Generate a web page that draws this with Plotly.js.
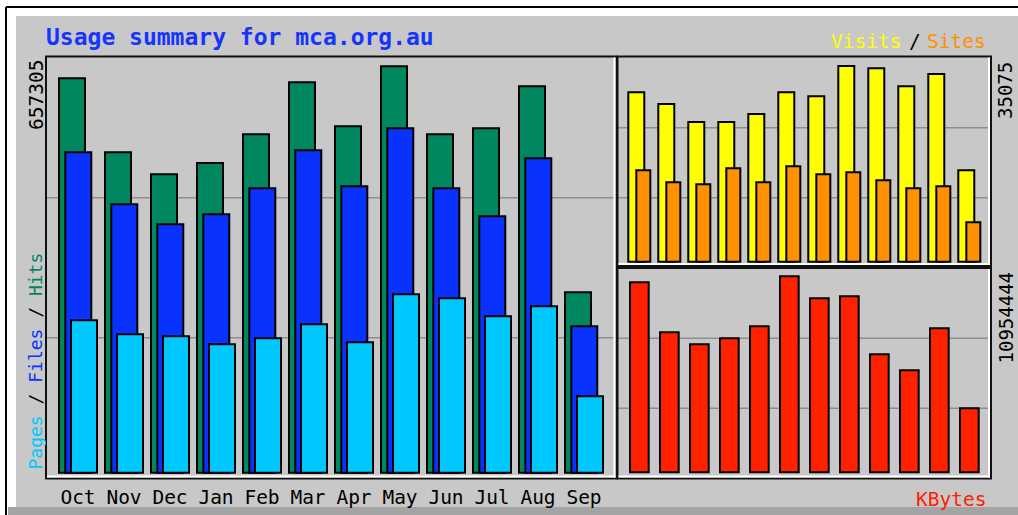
<!DOCTYPE html>
<html>
<head>
<meta charset="utf-8">
<script src="https://cdn.plot.ly/plotly-3.0.1.min.js"></script>
<style>html,body{margin:0;padding:0;background:#fff;}#chart{width:1018px;height:515px;}</style>
</head>
<body>
<div id="chart"></div>
<script>
// ---- data ----
const months = ['Oct','Nov','Dec','Jan','Feb','Mar','Apr','May','Jun','Jul','Aug','Sep'];
const hits   = [637900, 518200, 482600, 500900, 547300, 631400, 560300, 657305, 547300, 557000, 625000, 291800];
const files  = [518200, 434100, 401800, 417900, 460000, 521400, 463200, 557000, 460000, 414700, 508500, 236800];
const pages  = [246500, 223800, 220600, 207700, 217400, 240000, 210900, 288500, 282100, 253000, 269100, 123600];
const visits = [30360, 28260, 25030, 25030, 26470, 30360, 29640, 35075, 34660, 31430, 33640, 16380];
const sites  = [16380, 14230, 13870, 16740, 14230, 17100, 15660, 16020, 14590, 13150, 13510, 7060];
const kbytes = [10619000, 7824600, 7154000, 7489000, 8160000, 10954444, 9725000, 9836700, 6595000, 5700800, 8048000, 3577000];
const titleText = 'Usage summary for mca.org.au';

// ---- layout helpers ----
const W = 1018, H = 515;
const px = x => x / W;
const py = y => 1 - y / H;
const MONO = '"DejaVu Sans Mono", "Liberation Mono", monospace';

const C = {
  hits: '#00875F', files: '#0A32FF', pages: '#00C8FF',
  visits: '#FFFF00', sites: '#FF9000', kbytes: '#FF2200',
  grey: '#C8C8C8', grid: '#8E8E8E'
};

const maxHits = Math.max(...hits);
const maxVisits = Math.max(...visits);
const maxKB = Math.max(...kbytes);

const line = {color: '#000', width: 2};
function bar(y, color, xa, ya, offset, width, name) {
  return {type: 'bar', x: months, y: y, name: name, xaxis: xa, yaxis: ya,
    offset: offset, width: width, marker: {color: color, line: line},
    hoverinfo: 'none'};
}

const traces = [
  bar(hits,   C.hits,   'x',  'y',  -0.413, 0.565, 'Hits'),
  bar(files,  C.files,  'x',  'y',  -0.276, 0.565, 'Files'),
  bar(pages,  C.pages,  'x',  'y',  -0.152, 0.565, 'Pages'),
  bar(visits, C.visits, 'x2', 'y2', -0.37,  0.533, 'Visits'),
  bar(sites,  C.sites,  'x2', 'y2', -0.103, 0.467, 'Sites'),
  bar(kbytes, C.kbytes, 'x3', 'y3', -0.313, 0.623, 'KBytes')
];

function L(x0, y0, x1, y1, color, w) {
  return {type: 'line', xref: 'paper', yref: 'paper', x0: px(x0), y0: py(y0), x1: px(x1), y1: py(y1),
    line: {color: color, width: w}, layer: 'below'};
}
function R(x0, y0, x1, y1, fill) {
  return {type: 'rect', xref: 'paper', yref: 'paper', x0: px(x0), y0: py(y0), x1: px(x1), y1: py(y1),
    fillcolor: fill, line: {width: 0}, layer: 'below'};
}
function frame(x0, y0, x1, y1) {
  return [
    {type: 'rect', xref: 'paper', yref: 'paper', x0: px(x0), y0: py(y0), x1: px(x1), y1: py(y1),
     fillcolor: 'rgba(0,0,0,0)', line: {color: '#111', width: 2}, layer: 'above'},
    Object.assign(L(x0 + 1, y1 - 2, x1 - 1, y1 - 2, '#FFFFFF', 2), {layer: 'above'}),
    Object.assign(L(x1 - 2, y0 + 1, x1 - 2, y1 - 1, '#FFFFFF', 2), {layer: 'above'})
  ];
}

const shapes = [
  // outer page border & background
  L(6, 7, 1018, 7, '#000', 2),
  L(6, 7, 6, 515, '#000', 2),
  R(16, 16, 1018, 507, C.grey),
  R(8, 507, 1018, 515, '#A4A4A4'),
  // grid lines
  L(47, 197.7, 615, 197.7, C.grid, 1.5),
  L(47, 337.7, 615, 337.7, C.grid, 1.5),
  L(618, 127.7, 990, 127.7, C.grid, 1.5),
  L(618, 197.7, 990, 197.7, C.grid, 1.5),
  L(618, 338.3, 990, 338.3, C.grid, 1.5),
  L(618, 408.3, 990, 408.3, C.grid, 1.5),
  ...frame(46, 56.5, 616.5, 478.5),
  ...frame(617.5, 56.5, 991, 266),
  ...frame(617.5, 268, 991, 478.5)
];

function ann(text, x, y, opts) {
  return Object.assign({text: text, x: px(x), y: py(y), xref: 'paper', yref: 'paper',
    showarrow: false, font: {family: MONO, size: 19.5, color: '#000'}}, opts);
}

const annotations = [
  ann(titleText, 44, 37, {xanchor: 'left', yanchor: 'middle',
    font: {family: MONO, size: 23, color: '#1634FF', weight: 'bold'}}),
  ann(String(maxHits), 36, 58, {xanchor: 'center', yanchor: 'top', textangle: -90}),
  ann('<span style="fill:' + C.pages + '">Pages</span> / <span style="fill:' + C.files + '">Files</span> / <span style="fill:' + C.hits + '">Hits</span>',
    35, 472, {xanchor: 'center', yanchor: 'bottom', textangle: -90, font: {family: MONO, size: 18, color: '#000'}}),
  ann(String(maxVisits), 1005.5, 60, {xanchor: 'center', yanchor: 'top', textangle: -90, font: {family: MONO, size: 19, color: '#000'}}),
  ann(String(maxKB), 1005.5, 270, {xanchor: 'center', yanchor: 'top', textangle: -90, font: {family: MONO, size: 19, color: '#000'}}),
  ann('Visits', 903, 41, {xanchor: 'right', yanchor: 'middle', font: {family: MONO, size: 19.5, color: C.visits}}),
  ann('/', 915, 41, {xanchor: 'center', yanchor: 'middle'}),
  ann('Sites', 988, 41, {xanchor: 'right', yanchor: 'middle', font: {family: MONO, size: 19.5, color: C.sites}}),
  ann('KBytes', 988, 499, {xanchor: 'right', yanchor: 'middle', font: {family: MONO, size: 19.5, color: C.kbytes}})
];

const hidden = {showgrid: false, zeroline: false, showline: false, ticks: '', showticklabels: false, fixedrange: true};

const layout = {
  width: W, height: H,
  margin: {l: 0, r: 0, t: 0, b: 0, pad: 0},
  paper_bgcolor: '#FFFFFF',
  plot_bgcolor: 'rgba(0,0,0,0)',
  showlegend: false,
  barmode: 'overlay',
  xaxis: Object.assign({}, hidden, {
    type: 'category', domain: [px(47), px(615)], anchor: 'y',
    range: [(47 - 78) / 46, (615 - 78) / 46],
    showticklabels: true, automargin: false, ticklabelstandoff: 6,
    tickfont: {family: MONO, size: 19.5, color: '#000'}
  }),
  yaxis: Object.assign({}, hidden, {
    domain: [py(477), py(57)], anchor: 'x',
    range: [-(477 - 472.7) / 406.4 * maxHits, (472.7 - 57) / 406.4 * maxHits]
  }),
  xaxis2: Object.assign({}, hidden, {
    type: 'category', domain: [px(618), px(990)], anchor: 'y2',
    range: [(618 - 639.4) / 30, (990 - 639.4) / 30]
  }),
  yaxis2: Object.assign({}, hidden, {
    domain: [py(265), py(57)], anchor: 'x2',
    range: [-(265 - 261.7) / 195.7 * maxVisits, (261.7 - 57) / 195.7 * maxVisits]
  }),
  xaxis3: Object.assign({}, hidden, {
    type: 'category', domain: [px(618), px(990)], anchor: 'y3',
    range: [(618 - 639.4) / 30, (990 - 639.4) / 30]
  }),
  yaxis3: Object.assign({}, hidden, {
    domain: [py(477), py(269)], anchor: 'x3',
    range: [-(477 - 472.3) / 196 * maxKB, (472.3 - 269) / 196 * maxKB]
  }),
  shapes: shapes,
  annotations: annotations
};

Plotly.newPlot('chart', traces, layout, {staticPlot: true, displayModeBar: false});
</script>
</body>
</html>
